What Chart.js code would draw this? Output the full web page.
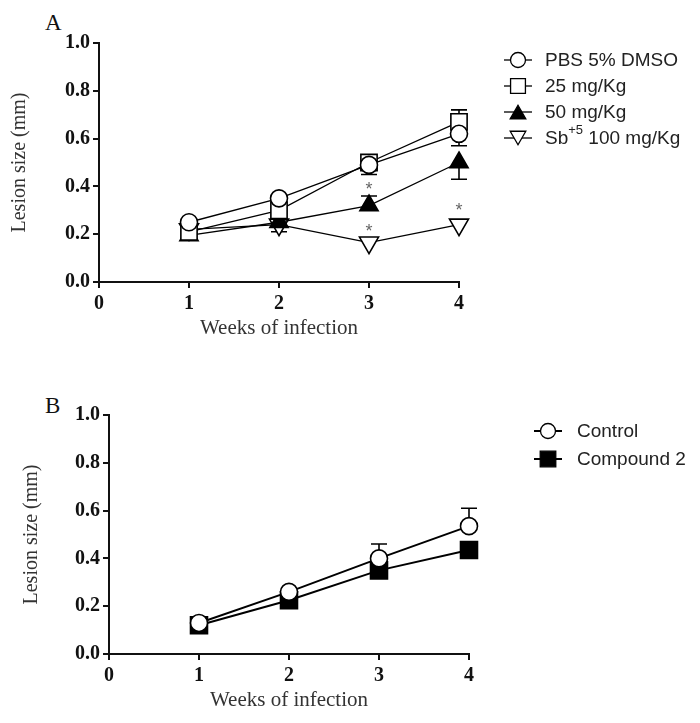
<!DOCTYPE html>
<html><head><meta charset="utf-8">
<script src="https://cdn.jsdelivr.net/npm/chart.js@4"></script>
<style>
html,body{margin:0;padding:0;background:#fff;width:700px;height:723px;overflow:hidden}
.wrap{position:absolute;left:0;width:700px;height:350px}
.panel{position:absolute;left:45px;font-family:'Liberation Serif','Times New Roman',serif;font-size:23px;color:#111;line-height:1}
</style></head><body>
<div class="panel" style="top:11px">A</div>
<div class="panel" style="top:394px">B</div>
<div class="wrap" style="top:0"><canvas id="cA"></canvas></div>
<div class="wrap" style="top:372px"><canvas id="cB"></canvas></div>
<script>
// ---------- data ----------
const weeks = [1, 2, 3, 4];
const xMin = 0, xMax = 4, xStep = 1;
const yMin = 0, yMax = 1.0, yStep = 0.2;

// Panel A
const labelsA = ['PBS 5% DMSO', '25 mg/Kg', '50 mg/Kg', 'Sb^{+5} 100 mg/Kg'];
const pbsA      = [0.25, 0.35, 0.49, 0.62];
const pbsAUp    = [0, 0, 0, 0];
const pbsADown  = [0, 0, 0.04, 0.05];
const mg25A     = [0.21, 0.30, 0.50, 0.67];
const mg25AUp   = [0, 0.02, 0.03, 0.05];
const mg25ADown = [0, 0, 0, 0];
const mg50A     = [0.195, 0.25, 0.32, 0.50];
const mg50AUp   = [0, 0, 0.04, 0];
const mg50ADown = [0, 0.04, 0, 0.07];
const sbA       = [0.22, 0.24, 0.165, 0.24];
const sbAUp     = [0, 0, 0, 0];
const sbADown   = [0, 0, 0, 0];
const starWeeksA  = [3, 3, 4];
const starValuesA = [0.405, 0.23, 0.32];

// Panel B
const labelsB = ['Control', 'Compound 2'];
const controlB     = [0.13, 0.26, 0.40, 0.535];
const controlBUp   = [0, 0, 0.06, 0.075];
const controlBDown = [0, 0, 0, 0];
const compB        = [0.12, 0.225, 0.35, 0.435];
const compBUp      = [0, 0, 0, 0];
const compBDown    = [0, 0, 0, 0.025];

const axisTitle = 'Lesion size (mm)';
const xTitle = 'Weeks of infection';

// ---------- helpers ----------
function pts(arr) { return weeks.map((w, i) => ({ x: w, y: arr[i] })); }

function markerPath(ctx, style, x, y, r, rot) {
  ctx.beginPath();
  if (style === 'circle') {
    ctx.arc(x, y, r, 0, Math.PI * 2);
  } else if (style === 'rect') {
    const s = r * Math.SQRT1_2;
    ctx.rect(x - s, y - s, 2 * s, 2 * s);
  } else if (style === 'triangle') {
    let rad = (rot || 0) * Math.PI / 180;
    ctx.moveTo(x + Math.sin(rad) * r, y - Math.cos(rad) * r);
    rad += 2 * Math.PI / 3;
    ctx.lineTo(x + Math.sin(rad) * r, y - Math.cos(rad) * r);
    rad += 2 * Math.PI / 3;
    ctx.lineTo(x + Math.sin(rad) * r, y - Math.cos(rad) * r);
    ctx.closePath();
  }
}

const errorBars = {
  id: 'errorBars',
  beforeDatasetsDraw(chart) {
    const ctx = chart.ctx, xs = chart.scales.x, ys = chart.scales.y;
    ctx.save();
    chart.data.datasets.forEach(ds => {
      const cap = ds.capHalf || 8;
      ctx.strokeStyle = '#000';
      ctx.lineWidth = ds.errWidth || 1.5;
      ds.data.forEach((p, i) => {
        const px = xs.getPixelForValue(p.x);
        const up = ds.errUp ? ds.errUp[i] : 0;
        const dn = ds.errDown ? ds.errDown[i] : 0;
        [[up, 1], [dn, -1]].forEach(([e, s]) => {
          if (!e) return;
          const y0 = ys.getPixelForValue(p.y);
          const y1 = ys.getPixelForValue(p.y + s * e);
          ctx.beginPath();
          ctx.moveTo(px, y0); ctx.lineTo(px, y1);
          ctx.moveTo(px - cap, y1); ctx.lineTo(px + cap, y1);
          ctx.stroke();
        });
      });
    });
    ctx.restore();
  }
};

const stars = {
  id: 'stars',
  afterDatasetsDraw(chart, args, opts) {
    if (!opts || !opts.xs) return;
    const ctx = chart.ctx, xs = chart.scales.x, ys = chart.scales.y;
    ctx.save();
    ctx.fillStyle = '#666';
    ctx.font = '18px "Liberation Sans", Arial, sans-serif';
    ctx.textAlign = 'center';
    ctx.textBaseline = 'alphabetic';
    opts.xs.forEach((w, i) => {
      ctx.fillText('*', xs.getPixelForValue(w), ys.getPixelForValue(opts.ys[i]) + 10);
    });
    ctx.restore();
  }
};

const sideLegend = {
  id: 'sideLegend',
  afterDraw(chart, args, o) {
    if (!o || !o.x) return;
    const ctx = chart.ctx;
    ctx.save();
    chart.data.datasets.forEach((ds, i) => {
      const y = o.y0 + i * o.dy;
      ctx.strokeStyle = '#000';
      ctx.lineWidth = o.lineWidth;
      ctx.beginPath();
      ctx.moveTo(o.x - o.half, y); ctx.lineTo(o.x + o.half, y);
      ctx.stroke();
      const r = (o.radius && o.radius[ds.pointStyle]) || 8;
      markerPath(ctx, ds.pointStyle, o.x, y + (ds.pointStyle === 'triangle' ? (ds.pointRotation ? -r * 0.25 : r * 0.25) : 0), r, ds.pointRotation || 0);
      ctx.fillStyle = ds.pointBackgroundColor;
      ctx.fill();
      ctx.lineWidth = 1.3;
      ctx.stroke();
      // text with optional superscript ^{...}
      ctx.fillStyle = '#222';
      ctx.textBaseline = 'middle';
      ctx.textAlign = 'left';
      let tx = o.textX;
      const parts = ds.label.split(/\^\{(.*?)\}/);
      parts.forEach((part, k) => {
        if (!part) return;
        if (k % 2 === 1) {
          ctx.font = Math.round(o.size * 0.68) + 'px "Liberation Sans", Arial, sans-serif';
          ctx.fillText(part, tx, y - o.size * 0.38);
        } else {
          ctx.font = o.size + 'px "Liberation Sans", Arial, sans-serif';
          ctx.fillText(part, tx, y + 1);
        }
        tx += ctx.measureText(part).width;
      });
    });
    ctx.restore();
  }
};

function makeScales(yWidth, yTitlePad) {
  const tickFont = { family: '"Liberation Serif", "Times New Roman", serif', size: 20, weight: 'bold' };
  const titleFont = { family: '"Liberation Serif", "Times New Roman", serif', size: 21 };
  return {
    x: {
      type: 'linear', min: xMin, max: xMax,
      ticks: { stepSize: xStep, font: tickFont, color: '#111', padding: 4, callback: v => String(v) },
      grid: { drawOnChartArea: false, drawTicks: true, tickLength: 6, color: '#111', lineWidth: 2 },
      border: { display: true, color: '#111', width: 2 },
      title: { display: true, text: xTitle, font: titleFont, color: '#333', padding: { top: 9, bottom: 9 } },
      afterFit(s) { s.height = 68; }
    },
    y: {
      type: 'linear', min: yMin, max: yMax,
      ticks: { stepSize: yStep, font: tickFont, color: '#111', padding: 3, callback: v => Number(v).toFixed(1) },
      grid: { drawOnChartArea: false, drawTicks: true, tickLength: 6, color: '#111', lineWidth: 2 },
      border: { display: true, color: '#111', width: 2 },
      title: { display: true, text: axisTitle, font: { family: titleFont.family, size: 20 }, color: '#333', padding: { top: yTitlePad, bottom: yTitlePad } },
      afterFit(s) { s.width = yWidth; }
    }
  };
}

function ds(label, arr, up, down, style, radius, fill, rot, lw) {
  return {
    label, data: pts(arr), errUp: up, errDown: down,
    pointStyle: style, pointRadius: radius, pointHoverRadius: radius,
    pointRotation: rot || 0,
    pointBackgroundColor: fill, pointBorderColor: '#000', pointBorderWidth: 1.6,
    borderColor: '#000', borderWidth: lw, backgroundColor: fill,
    tension: 0, fill: false, clip: false, capHalf: 8, errWidth: 1.6
  };
}

new Chart(document.getElementById('cA'), {
  type: 'line',
  data: {
    datasets: [
      ds(labelsA[0], pbsA, pbsAUp, pbsADown, 'circle', 8.5, '#fff', 0, 1.3),
      ds(labelsA[1], mg25A, mg25AUp, mg25ADown, 'rect', 11.5, '#fff', 0, 1.3),
      ds(labelsA[2], mg50A, mg50AUp, mg50ADown, 'triangle', 10.5, '#000', 0, 1.3),
      ds(labelsA[3], sbA, sbAUp, sbADown, 'triangle', 11, '#fff', 180, 1.3)
    ]
  },
  options: {
    responsive: true, maintainAspectRatio: false, animation: false,
    layout: { padding: { left: 0, top: 43, right: 241, bottom: 0 } },
    scales: makeScales(99, 8),
    plugins: {
      legend: { display: false }, tooltip: { enabled: false },
      stars: { xs: starWeeksA, ys: starValuesA },
      sideLegend: { x: 518, half: 14, y0: 60, dy: 26, textX: 545, size: 19, lineWidth: 1.3,
                    radius: { circle: 7.5, rect: 10.5, triangle: 9 } }
    }
  },
  plugins: [errorBars, stars, sideLegend]
});

new Chart(document.getElementById('cB'), {
  type: 'line',
  data: {
    datasets: [
      ds(labelsB[0], controlB, controlBUp, controlBDown, 'circle', 8.5, '#fff', 0, 2),
      ds(labelsB[1], compB, compBUp, compBDown, 'rect', 12, '#000', 0, 2)
    ]
  },
  options: {
    responsive: true, maintainAspectRatio: false, animation: false,
    layout: { padding: { left: 0, top: 43, right: 231, bottom: 0 } },
    scales: makeScales(109, 20),
    plugins: {
      legend: { display: false }, tooltip: { enabled: false },
      sideLegend: { x: 548, half: 14, y0: 59, dy: 28, textX: 577, size: 19, lineWidth: 2,
                    radius: { circle: 7.5, rect: 11 } }
    }
  },
  plugins: [errorBars, stars, sideLegend]
});
</script>
</body></html>
